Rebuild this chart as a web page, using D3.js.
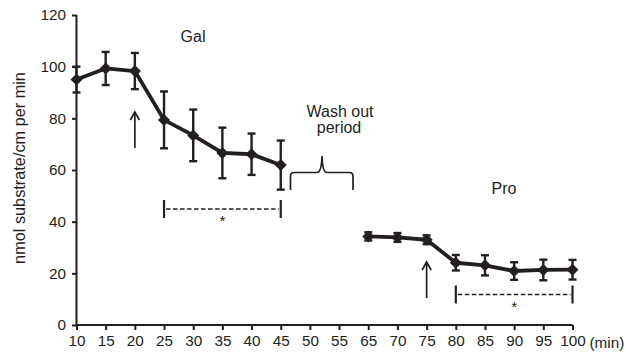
<!DOCTYPE html>
<html><head><meta charset="utf-8">
<script src="https://cdn.jsdelivr.net/npm/d3@7"></script>
<style>body{margin:0;background:#fff}svg{display:block}text{font-family:"Liberation Sans",Arial,sans-serif;fill:#231f20}</style>
</head><body><svg id="c" width="626" height="356"></svg>
<script>
const xLabels = ["10","15","20","25","30","35","40","45","50","55","65","70","75","80","85","90","95","100"];
const yTicks = [0,20,40,60,80,100,120];
const galTimes = ["10","15","20","25","30","35","40","45"];
const galValues = [95,99.3,98.3,79.4,73.4,66.6,66.1,61.9];
const galErrors = [5,6.4,7,11,10,9.8,8,9.5];
const proTimes = ["65","70","75","80","85","90","95","100"];
const proValues = [34.3,33.9,33.0,24.1,23.1,20.9,21.3,21.4];
const proErrors = [1.6,1.7,1.7,3,3.9,3.4,4,3.8];

const svg = d3.select("#c");
const ink = "#231f20";
const x = d3.scalePoint().domain(xLabels).range([76.5,572.5]);
const y = d3.scaleLinear().domain([0,120]).range([325,15]);
const FS = 15.3;

// axes
const yAx = svg.append("g").attr("transform","translate(76.5,0)")
  .call(d3.axisLeft(y).tickValues(yTicks).tickSize(4.5).tickPadding(6));
const xAx = svg.append("g").attr("transform","translate(0,325)")
  .call(d3.axisBottom(x).tickSize(5).tickPadding(5));
[yAx,xAx].forEach(g=>{
  g.select(".domain").attr("stroke",ink).attr("stroke-width",2);
  g.selectAll(".tick line").attr("stroke",ink).attr("stroke-width",2);
  g.selectAll(".tick text").attr("font-size",FS).attr("font-family","Liberation Sans, Arial, sans-serif").attr("fill",ink);
});
xAx.select(".domain").attr("d","M76.5,0H572.5");
yAx.select(".domain").attr("d","M0,"+y(0)+"V"+y(120));
svg.append("text").attr("x",589.5).attr("y",348).attr("font-size",FS).text("(min)");

svg.append("text").attr("transform","translate(25,168) rotate(-90)")
  .attr("text-anchor","middle").attr("font-size",16.3).text("nmol substrate/cm per min");

function series(times, vals, errs){
  const data = times.map((t,i)=>({t,v:vals[i],e:errs[i]}));
  const g = svg.append("g");
  g.selectAll("line.eb").data(data).join("line")
    .attr("x1",d=>x(d.t)).attr("x2",d=>x(d.t))
    .attr("y1",d=>y(d.v+d.e)).attr("y2",d=>y(d.v-d.e))
    .attr("stroke",ink).attr("stroke-width",2.4);
  data.forEach(d=>{
    [d.v+d.e,d.v-d.e].forEach(vv=>{
      g.append("line").attr("x1",x(d.t)-4).attr("x2",x(d.t)+4)
        .attr("y1",y(vv)).attr("y2",y(vv)).attr("stroke",ink).attr("stroke-width",2.4);
    });
  });
  g.append("path").datum(data)
    .attr("d",d3.line().x(d=>x(d.t)).y(d=>y(d.v)))
    .attr("fill","none").attr("stroke",ink).attr("stroke-width",3.8).attr("stroke-linejoin","round");
  g.selectAll("path.m").data(data).join("path")
    .attr("transform",d=>`translate(${x(d.t)},${y(d.v)})`)
    .attr("d","M0,-6L6,0L0,6L-6,0Z").attr("fill",ink);
}
series(galTimes,galValues,galErrors);
series(proTimes,proValues,proErrors);

// labels
const AF = 16;
svg.append("text").attr("x",193).attr("y",42).attr("text-anchor","middle").attr("font-size",AF).text("Gal");
svg.append("text").attr("x",340).attr("y",117).attr("text-anchor","middle").attr("font-size",AF).text("Wash out");
svg.append("text").attr("x",339).attr("y",133).attr("text-anchor","middle").attr("font-size",AF).text("period");
svg.append("text").attr("x",504).attr("y",194).attr("text-anchor","middle").attr("font-size",AF).text("Pro");

// brace
svg.append("path").attr("d","M290.5,190V176Q290.5,172.5 294.5,172.5H317Q321.5,172.5 322,156Q322.5,172.5 327,172.5H349Q353,172.5 353,176V190")
  .attr("fill","none").attr("stroke",ink).attr("stroke-width",1.7);

// arrows
function arrow(xc,y1,y2){
  svg.append("line").attr("x1",xc).attr("x2",xc).attr("y1",y1).attr("y2",y2).attr("stroke",ink).attr("stroke-width",1.7);
  svg.append("path").attr("d",`M${xc-4.5},${y2+8}L${xc},${y2}L${xc+4.5},${y2+8}`).attr("fill","none").attr("stroke",ink).attr("stroke-width",1.7);
}
arrow(x("20"),148,112);
arrow(x("75"),298,262);

// significance brackets
function bracket(a,b,yy){
  const x1=x(a), x2=x(b);
  svg.append("line").attr("x1",x1+2).attr("x2",x2-2).attr("y1",yy).attr("y2",yy)
    .attr("stroke",ink).attr("stroke-width",1.7).attr("stroke-dasharray","4.5,2.5");
  [x1,x2].forEach(xx=>svg.append("line").attr("x1",xx).attr("x2",xx).attr("y1",yy-9).attr("y2",yy+9).attr("stroke",ink).attr("stroke-width",2.2));
  svg.append("text").attr("x",(x1+x2)/2).attr("y",yy+17).attr("text-anchor","middle").attr("font-size",FS).text("*");
}
bracket("25","45",209);
bracket("80","100",294.5);
</script></body></html>
